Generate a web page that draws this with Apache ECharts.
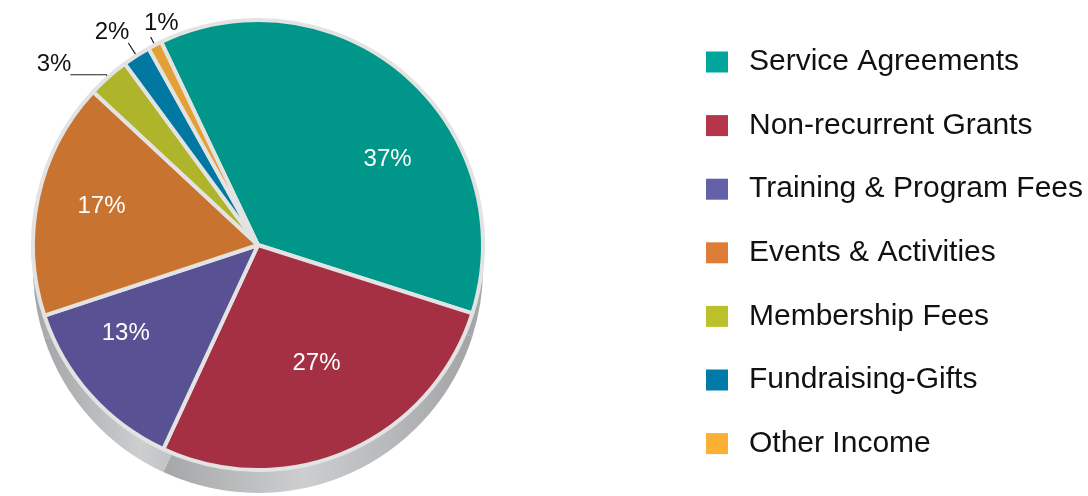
<!DOCTYPE html>
<html>
<head>
<meta charset="utf-8">
<script src="https://cdn.jsdelivr.net/npm/echarts@6/dist/echarts.min.js"></script>
<style>
  html, body { margin: 0; padding: 0; background: #fff; }
  #chart { width: 1088px; height: 496px; }
</style>
</head>
<body>
<div id="chart"></div>
<script>
// income sources and their share (%)
const categories = ['Service Agreements', 'Non-recurrent Grants', 'Training & Program Fees', 'Events & Activities', 'Membership Fees', 'Fundraising-Gifts', 'Other Income'];
const shares = [37, 27, 13, 17, 3, 2, 1];
const smallSlices = ['Membership Fees', 'Fundraising-Gifts', 'Other Income'];

const sliceColors = ['#00968a', '#a52f43', '#585194', '#c87430', '#afb52a', '#0178a2', '#e3a035'];
const legendColors = ['#00a59b', '#b5364b', '#6362a8', '#de7d38', '#bcc12b', '#0179a9', '#fbb034'];
// leader line lengths for the small outer labels
const leadLen = [[3, 36], [15, 0], [9, 0]];
// label nudges [dx, dy] per slice, to mimic the tilted original
const labelShift = [[29, 30], [-3, -22], [-18, -13], [-7, -6], [6, -10], [6, -11], [33, -14]];

const chart = echarts.init(document.getElementById('chart'));

const center = [258, 245];
const radius = 225;
const font = 'Liberation Sans, Arial, sans-serif';

const faceData = categories.map((name, i) => {
  const small = smallSlices.indexOf(name);
  return {
    name: name,
    value: shares[i],
    itemStyle: { color: sliceColors[i] },
    label: { show: small >= 0 },
    labelLine: small >= 0 ? { show: true, length: leadLen[small][0], length2: leadLen[small][1] } : { show: false }
  };
});

const sideData = categories.map((name, i) => ({ name: name, value: shares[i] }));

const innerLabelData = categories.map((name, i) => ({
  name: name,
  value: shares[i],
  label: { show: smallSlices.indexOf(name) < 0 }
}));

function nudge(params) {
  const s = labelShift[params.dataIndex];
  return { dx: s[0], dy: s[1] };
}

chart.setOption({
  animation: false,
  legend: {
    orient: 'vertical',
    left: 701,
    top: 42,
    itemWidth: 22,
    itemHeight: 21,
    itemGap: 33.6,
    selectedMode: false,
    icon: 'rect',
    itemStyle: { borderWidth: 0 },
    textStyle: { fontSize: 30, lineHeight: 30, color: '#111', fontFamily: font, padding: [0, 0, 0, 16] },
    data: categories.map((name, i) => ({ name: name, itemStyle: { color: legendColors[i] } }))
  },
  series: [
    {
      name: 'Income',
      type: 'pie',
      z: 3,
      center: center,
      radius: radius,
      startAngle: 115.5,
      avoidLabelOverlap: false,
      labelLayout: nudge,
      itemStyle: { borderColor: '#e3e3e3', borderWidth: 4 },
      label: { position: 'outside', formatter: '{c}%', color: '#111', fontSize: 24, fontFamily: font },
      labelLine: { lineStyle: { color: '#222', width: 1.2 } },
      emphasis: { disabled: true },
      data: faceData
    },
    {
      name: 'Side',
      type: 'pie',
      z: 1,
      silent: true,
      center: [center[0], center[1] + 23],
      radius: radius,
      startAngle: 115.5,
      label: { show: false },
      labelLine: { show: false },
      itemStyle: {
        borderWidth: 0,
        color: new echarts.graphic.LinearGradient(0, 0, 1, 0, [
          { offset: 0, color: '#a4a6a8' },
          { offset: 0.45, color: '#cdced0' },
          { offset: 1, color: '#a2a4a6' }
        ])
      },
      emphasis: { disabled: true },
      data: sideData
    },
    {
      name: 'Labels',
      type: 'pie',
      z: 4,
      silent: true,
      center: center,
      radius: 300,
      startAngle: 115.5,
      avoidLabelOverlap: false,
      labelLayout: nudge,
      itemStyle: { color: 'rgba(0,0,0,0)', borderWidth: 0 },
      label: { position: 'inside', formatter: '{c}%', color: '#fff', fontSize: 24, fontFamily: font },
      labelLine: { show: false },
      emphasis: { disabled: true },
      data: innerLabelData
    }
  ]
});

window.addEventListener('resize', () => {
  chart.resize();
});
</script>
</body>
</html>
